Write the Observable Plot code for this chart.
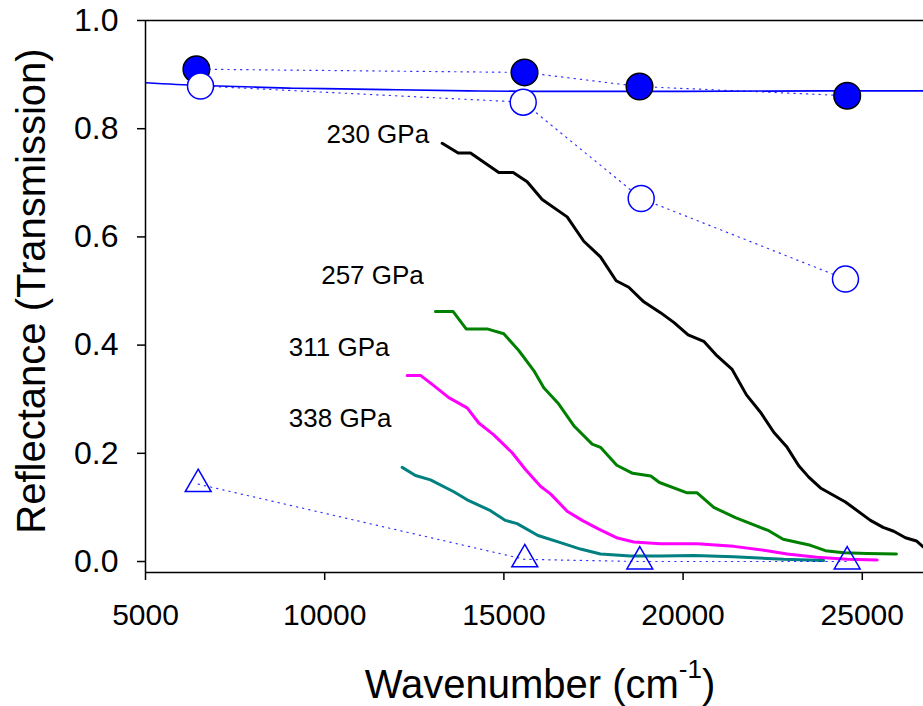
<!DOCTYPE html>
<html><head><meta charset="utf-8">
<script src="https://cdn.jsdelivr.net/npm/d3@7"></script>
<script src="https://cdn.jsdelivr.net/npm/@observablehq/plot@0.6"></script>
<style>html,body{margin:0;padding:0;background:#fff}</style>
</head><body><div id="chart"></div>
<script>
// ---- axes ----
const xDomain = [5000, 26708];
const yDomain = [-0.0203, 1.0];
const xTicks = [5000, 10000, 15000, 20000, 25000];
const yTicks = [0, 0.2, 0.4, 0.6, 0.8, 1.0];

// ---- spectra (wavenumber, reflectance) ----
const wn230 = [13278,13724,14068,14857,15259,15649,16068,16765,17229,17695,18133,18484,18903,19369,19740,20141,20577,20950,21369,21768,22159,22530,22903,23227,23506,23833,24530,25228,25582,25878,26204,26511,26700];
const r230  = [0.773,0.755,0.755,0.719,0.719,0.702,0.669,0.637,0.592,0.563,0.519,0.507,0.480,0.460,0.442,0.419,0.407,0.380,0.355,0.308,0.276,0.239,0.211,0.177,0.156,0.136,0.110,0.076,0.063,0.056,0.044,0.038,0.027];

const wn257 = [13091,13585,13947,14533,14997,15415,15834,16113,16531,16950,17463,17695,18149,18593,19098,19341,20113,20392,20856,21461,22390,22792,23554,23972,24483,25135,25953];
const r257  = [0.462,0.462,0.430,0.430,0.421,0.390,0.353,0.321,0.291,0.251,0.217,0.211,0.178,0.163,0.158,0.146,0.127,0.127,0.100,0.081,0.057,0.041,0.030,0.020,0.016,0.015,0.014];

const wn311 = [12301,12673,13044,13462,13975,14299,14718,15231,15602,16021,16300,16765,17184,17647,18141,18624,19369,20392,21414,22345,22903,23740,24577,25414];
const r311  = [0.344,0.344,0.325,0.303,0.284,0.256,0.234,0.201,0.170,0.139,0.125,0.093,0.076,0.060,0.044,0.036,0.033,0.033,0.028,0.020,0.014,0.008,0.004,0.003];

const wn338 = [12162,12533,12952,13602,13975,14626,15044,15370,15951,16579,17137,17695,18532,19369,20298,21414,22809,23925];
const r338  = [0.174,0.159,0.151,0.129,0.114,0.094,0.076,0.070,0.048,0.035,0.023,0.014,0.010,0.010,0.011,0.009,0.004,0.002];

// ---- point series ----
const filledWn = [6420, 15575, 18784, 24579];
const filledR  = [0.910, 0.904, 0.878, 0.861];
const openWn   = [6535, 15539, 18831, 24531];
const openR    = [0.879, 0.849, 0.671, 0.522];
const triWn    = [6470, 15583, 18792, 24579];
const triR     = [0.143, 0.004, 0.000, 0.000];

// ---- fitted line ----
const fitWn = [5000, 6500, 8000, 9000, 10000, 12000, 14000, 16000, 20000, 24000, 26708];
const fitR  = [0.885, 0.880, 0.877, 0.875, 0.874, 0.872, 0.870, 0.869, 0.869, 0.870, 0.870];

// ---- curve labels ----
const labelText = ["230 GPa", "257 GPa", "311 GPa", "338 GPa"];
const labelWn   = [10050, 9902, 8998, 8998];
const labelR    = [0.774, 0.513, 0.380, 0.248];

const rows = (xs, ys) => xs.map((x, i) => ({x, y: ys[i]}));
const labels = labelText.map((t, i) => ({t, x: labelWn[i], y: labelR[i]}));

const blue = "#0000ff";
const font = "'Liberation Sans', Arial, sans-serif";
const chart = Plot.plot({
  width: 923, height: 706,
  marginLeft: 145, marginRight: 0, marginTop: 20, marginBottom: 134,
  x: {domain: xDomain},
  y: {domain: yDomain},
  style: {fontFamily: font, fontSize: "30px", color: "black", background: "white"},
  marks: [
    Plot.line(rows(wn230, r230), {x: "x", y: "y", stroke: "black", strokeWidth: 3, clip: true}),
    Plot.line(rows(wn257, r257), {x: "x", y: "y", stroke: "#008000", strokeWidth: 3}),
    Plot.line(rows(wn311, r311), {x: "x", y: "y", stroke: "#ff00ff", strokeWidth: 3}),
    Plot.line(rows(wn338, r338), {x: "x", y: "y", stroke: "#008080", strokeWidth: 3}),
    Plot.line(rows(fitWn, fitR), {x: "x", y: "y", stroke: blue, strokeWidth: 1.6, curve: "natural", clip: true}),
    Plot.line(rows(filledWn, filledR), {x: "x", y: "y", stroke: blue, strokeWidth: 1.2, strokeDasharray: "1.3,5", strokeOpacity: 0.8}),
    Plot.line(rows(openWn, openR), {x: "x", y: "y", stroke: blue, strokeWidth: 1.2, strokeDasharray: "1.3,5", strokeOpacity: 0.8}),
    Plot.line(rows(triWn, triR), {x: "x", y: "y", stroke: blue, strokeWidth: 1.2, strokeDasharray: "1.3,5", strokeOpacity: 0.8}),
    Plot.dot(rows(filledWn, filledR), {x: "x", y: "y", r: 13.3, fill: blue, stroke: "black", strokeWidth: 1.5}),
    Plot.dot(rows(openWn, openR), {x: "x", y: "y", r: 13, fill: "white", stroke: blue, strokeWidth: 1.5}),
    Plot.dot(rows(triWn, triR), {x: "x", y: "y", r: 9.6, symbol: "triangle", fill: "none", stroke: blue, strokeWidth: 1.5}),
    Plot.text(labels, {x: "x", y: "y", text: "t", textAnchor: "start", lineAnchor: "bottom", fontSize: 26, fill: "black"}),
    Plot.ruleY([yDomain[0]], {stroke: "black", strokeWidth: 1.5}),
    Plot.ruleY([yDomain[1]], {stroke: "black", strokeWidth: 1.5}),
    Plot.ruleX([xDomain[0]], {stroke: "black", strokeWidth: 1.5}),
    Plot.axisX({ticks: xTicks, tickSize: 8, tickPadding: 23, fontSize: 30, strokeWidth: 1.5, tickFormat: d => String(d), label: null}),
    Plot.axisY({ticks: yTicks, tickSize: 8, tickPadding: 19, fontSize: 32, strokeWidth: 1.5, tickFormat: d3.format(".1f"), label: null})
  ]
});

const svg = d3.select(chart);
const xt = svg.append("text")
  .attr("x", 540).attr("y", 698)
  .attr("text-anchor", "middle")
  .style("font-size", "40px").style("font-family", font).attr("fill", "black");
xt.append("tspan").text("Wavenumber (cm");
xt.append("tspan").attr("dy", -20).style("font-size", "26px").text("-1");
xt.append("tspan").attr("dy", 20).text(")");

svg.append("text")
  .attr("transform", "translate(45,291) rotate(-90)")
  .attr("text-anchor", "middle")
  .style("font-size", "40px").style("font-family", font).attr("fill", "black")
  .text("Reflectance (Transmission)");

document.getElementById("chart").appendChild(chart);
</script>
</body></html>
